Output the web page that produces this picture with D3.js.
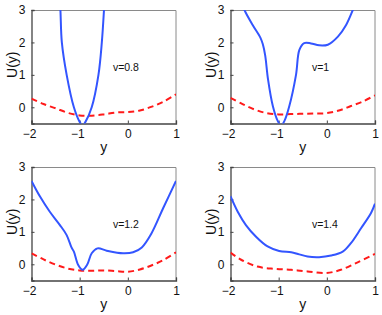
<!DOCTYPE html>
<html>
<head>
<meta charset="utf-8">
<script src="https://cdn.jsdelivr.net/npm/d3@7"></script>
<style>
  body { margin: 0; background: #fff; }
  text { font-family: "Liberation Sans", Arial, sans-serif; }
</style>
</head>
<body>
<div id="chart"></div>
<script>
// tick values
const xTicks = [-2, -1, 0, 1];
const yTicks = [0, 1, 2, 3];
const panelLabels = ["v=0.8", "v=1", "v=1.2", "v=1.4"];

// solid blue curves, one per panel, [y, U]
const blue08 = [[-1.42, 3.4], [-1.40, 3.0], [-1.37, 2.0], [-1.27, 1.0], [-1.12, 0.0], [-1.0, -0.45],
  [-0.94, -0.56], [-0.88, -0.45], [-0.75, 0.0], [-0.61, 1.0], [-0.54, 2.0], [-0.495, 3.0], [-0.48, 3.4]];
const blue10 = [[-1.78, 3.3], [-1.71, 3.0], [-1.54, 2.54], [-1.38, 2.15], [-1.33, 1.95], [-1.28, 1.6],
  [-1.22, 0.85], [-1.12, 0.03], [-1.02, -0.42], [-0.95, -0.56], [-0.88, -0.42], [-0.78, 0.03],
  [-0.64, 1.0], [-0.57, 1.77], [-0.47, 1.98], [-0.33, 1.97], [-0.16, 1.91], [0.02, 1.93],
  [0.23, 2.18], [0.40, 2.54], [0.54, 3.0], [0.6, 3.2]];
const blue12 = [[-2, 2.57], [-1.82, 2.08], [-1.62, 1.62], [-1.41, 1.21], [-1.27, 0.9], [-1.17, 0.52],
  [-1.12, 0.39], [-1.03, -0.02], [-0.94, -0.17], [-0.84, 0.0], [-0.75, 0.34], [-0.63, 0.49],
  [-0.44, 0.42], [-0.1, 0.34], [0.11, 0.37], [0.29, 0.52], [0.49, 0.95], [0.73, 1.72], [1, 2.57]];
const blue14 = [[-2, 2.1], [-1.85, 1.62], [-1.68, 1.21], [-1.47, 0.85], [-1.23, 0.55], [-0.99, 0.41],
  [-0.74, 0.37], [-0.6, 0.32], [-0.4, 0.24], [-0.16, 0.22], [0.09, 0.27], [0.33, 0.39],
  [0.5, 0.65], [0.71, 1.11], [0.92, 1.59], [1, 1.87]];

// dashed red curves
const red08 = [[-2, 0.27], [-1.75, 0.1], [-1.5, -0.03], [-1.25, -0.17], [-1, -0.25], [-0.75, -0.26],
  [-0.5, -0.22], [-0.25, -0.16], [0, -0.15], [0.25, -0.1], [0.5, 0.02], [0.75, 0.18], [1, 0.4]];
const red10 = [[-2, 0.29], [-1.75, 0.1], [-1.5, -0.07], [-1.25, -0.18], [-1, -0.22], [-0.75, -0.21],
  [-0.5, -0.2], [-0.25, -0.19], [0, -0.18], [0.25, -0.1], [0.5, 0.04], [0.75, 0.18], [1, 0.37]];
const red12 = [[-2, 0.34], [-1.75, 0.15], [-1.5, -0.01], [-1.25, -0.13], [-1, -0.19], [-0.75, -0.2],
  [-0.5, -0.19], [-0.25, -0.21], [0, -0.23], [0.25, -0.16], [0.5, -0.03], [0.75, 0.14], [1, 0.37]];
const red14 = [[-2, 0.36], [-1.78, 0.14], [-1.44, -0.07], [-1.09, -0.14], [-0.74, -0.17], [-0.4, -0.22],
  [-0.02, -0.27], [0.29, -0.17], [0.64, 0.06], [1, 0.32]];

const blues = [blue08, blue10, blue12, blue14];
const reds = [red08, red10, red12, red14];

const W = 382, H = 315;
const svg = d3.select("#chart").append("svg")
    .attr("width", W)
    .attr("height", H);

// panel frames: left, top
const lefts = [31.5, 230.5];
const tops = [10, 167];
const pw = 144.5, ph = 113.5;

const x = d3.scaleLinear().domain([-2, 1]).range([0, pw]);
const y = d3.scaleLinear().domain([-0.5, 3]).range([ph, 0]);

const line = d3.line()
    .x(d => x(d[0]))
    .y(d => y(d[1]))
    .curve(d3.curveCatmullRom.alpha(0.5));

const fmt = d => d < 0 ? "\u2212" + Math.abs(d) : String(d);

for (let i = 0; i < 4; i++) {
    const left = lefts[i % 2], top = tops[Math.floor(i / 2)];
    const g = svg.append("g").attr("transform", `translate(${left},${top})`);

    g.append("clipPath").attr("id", "clip" + i)
      .append("rect").attr("width", pw).attr("height", ph);

    // top and right box edges
    g.append("path")
        .attr("d", `M0,0.5H${pw}V${ph}`)
        .attr("fill", "none")
        .attr("stroke", "#8a8a8a")
        .attr("stroke-width", 1);

    // x axis
    const xa = g.append("g").attr("transform", `translate(0,${ph})`)
        .call(d3.axisBottom(x).tickValues(xTicks).tickSize(-3).tickPadding(6).tickFormat(fmt));
    // y axis
    const ya = g.append("g")
        .call(d3.axisLeft(y).tickValues(yTicks).tickSize(-3).tickPadding(6).tickFormat(fmt));

    [xa, ya].forEach(a => {
        a.select(".domain").attr("stroke", "#444").attr("stroke-width", 1.3);
        a.selectAll(".tick line").attr("stroke", "#444");
        a.selectAll(".tick text")
            .attr("fill", "#111")
            .style("font-size", "12px")
            .style("font-family", "'Liberation Sans', Arial, sans-serif");
    });
    xa.selectAll(".tick text").attr("dx", d => d < 0 ? "-0.2em" : 0);

    const plot = g.append("g").attr("clip-path", `url(#clip${i})`);

    plot.append("path")
        .datum(reds[i])
        .attr("fill", "none")
        .attr("stroke", "#ff1a1a")
        .attr("stroke-width", 2)
        .attr("stroke-dasharray", "6,4")
        .attr("d", line);

    plot.append("path")
        .datum(blues[i])
        .attr("fill", "none")
        .attr("stroke", "#3355ff")
        .attr("stroke-width", 2)
        .attr("d", line);

    // annotation
    g.append("text")
        .attr("x", x(-0.31))
        .attr("y", y(1.13))
        .style("font-size", "10.5px")
        .attr("fill", "#111")
        .text(panelLabels[i]);

    // axis labels
    g.append("text")
        .attr("x", pw / 2)
        .attr("y", ph + 28)
        .attr("text-anchor", "middle")
        .style("font-size", "14px")
        .attr("fill", "#111")
        .text("y");

    g.append("text")
        .attr("transform", `translate(-15,${ph / 2 - 2}) rotate(-90)`)
        .attr("text-anchor", "middle")
        .style("font-size", "14px")
        .attr("fill", "#111")
        .text("U(y)");
}
</script>
</body>
</html>
